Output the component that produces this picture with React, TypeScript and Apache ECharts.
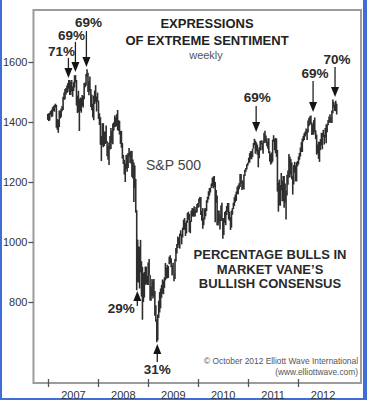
import React, { useEffect, useRef } from "react";
import * as echarts from "echarts";

// Weekly S&P 500 ranges [low, high]; each block starts on the given Friday
const spx2006: [number, number][] = [[1407, 1427]];
const spx2007: [number, number][] = [
  [1403, 1429], [1405, 1431], [1424, 1437], [1416, 1441],
  [1419, 1449], [1437, 1453], [1434, 1457], [1448, 1461],
  [1381, 1457], [1374, 1410], [1364, 1407], [1383, 1438], [1412, 1438],
  [1416, 1445], [1436, 1453], [1440, 1484], [1473, 1498],
  [1476, 1510], [1491, 1513], [1497, 1522], [1500, 1530],
  [1511, 1540], [1490, 1540], [1490, 1533], [1502, 1540], [1484, 1518],
  [1503, 1533], [1515, 1556], [1532, 1556], [1455, 1540],
  [1430, 1488], [1433, 1504], [1370, 1476], [1437, 1481], [1431, 1481],
  [1453, 1490], [1448, 1487], [1476, 1530], [1516, 1532],
  [1521, 1560], [1550, 1576], [1500, 1564], [1489, 1536],
  [1502, 1552], [1450, 1510], [1439, 1491], [1415, 1461], [1406, 1488],
  [1460, 1505], [1467, 1523], [1435, 1485], [1467, 1498],
];
const spx2008: [number, number][] = [
  [1410, 1471], [1390, 1429], [1324, 1416], [1270, 1353],
  [1322, 1396], [1316, 1396], [1320, 1368], [1327, 1368], [1330, 1388],
  [1286, 1336], [1274, 1321], [1257, 1332], [1308, 1353],
  [1310, 1380], [1332, 1370], [1326, 1395], [1371, 1399],
  [1383, 1422], [1384, 1415], [1387, 1426], [1373, 1440], [1370, 1406],
  [1358, 1404], [1327, 1371], [1314, 1370], [1278, 1330],
  [1260, 1290], [1225, 1274], [1200, 1262], [1244, 1290],
  [1234, 1292], [1247, 1297], [1283, 1313], [1263, 1300], [1262, 1304],
  [1217, 1303], [1212, 1275], [1133, 1265], [1180, 1255],
  [1098, 1210], [839, 1106], [866, 1008], [865, 985], [845, 984],
  [899, 1007], [818, 936], [741, 917], [800, 896],
  [815, 900], [857, 918], [861, 918], [857, 888],
];
const spx2009: [number, number][] = [
  [857, 932], [890, 943], [805, 890], [804, 852], [820, 877],
  [812, 872], [818, 877], [754, 837], [734, 789],
  [666, 742], [672, 758], [747, 804], [765, 833],
  [779, 845], [814, 857], [828, 875], [826, 871],
  [847, 882], [872, 930], [878, 915], [879, 924], [880, 920],
  [926, 951], [929, 956], [916, 946], [888, 922],
  [896, 931], [869, 897], [877, 943], [935, 980], [962, 993],
  [980, 1018], [990, 1013], [978, 1028], [1020, 1039],
  [992, 1026], [1015, 1048], [1040, 1074], [1041, 1080],
  [1020, 1064], [1029, 1071], [1064, 1097], [1074, 1101], [1033, 1094],
  [1029, 1071], [1067, 1105], [1086, 1113], [1084, 1112],
  [1085, 1119], [1085, 1107], [1097, 1117], [1099, 1127],
];
const spx2010: [number, number][] = [
  [1114, 1130], [1116, 1145], [1131, 1150], [1090, 1150], [1071, 1104],
  [1044, 1113], [1056, 1080], [1075, 1112], [1086, 1113],
  [1103, 1139], [1131, 1151], [1142, 1169], [1155, 1180],
  [1165, 1181], [1180, 1195], [1186, 1214], [1179, 1218], [1183, 1220],
  [1066, 1200], [1131, 1173], [1056, 1155], [1055, 1104],
  [1065, 1105], [1042, 1092], [1070, 1122], [1071, 1131],
  [1011, 1080], [1023, 1079], [1064, 1100], [1056, 1104], [1090, 1120],
  [1100, 1130], [1075, 1130], [1071, 1101], [1040, 1083],
  [1048, 1105], [1091, 1113], [1110, 1131], [1120, 1149],
  [1132, 1158], [1137, 1168], [1159, 1184], [1159, 1189], [1176, 1196],
  [1183, 1227], [1194, 1227], [1173, 1206], [1177, 1203],
  [1175, 1225], [1220, 1241], [1234, 1247], [1242, 1259], [1254, 1264],
];
const spx2011: [number, number][] = [
  [1262, 1281], [1265, 1296], [1276, 1303], [1276, 1302],
  [1283, 1311], [1311, 1330], [1323, 1344], [1294, 1338],
  [1302, 1332], [1291, 1325], [1249, 1308], [1279, 1316],
  [1305, 1337], [1325, 1339], [1306, 1330], [1294, 1338], [1329, 1364],
  [1332, 1371], [1331, 1355], [1319, 1346], [1311, 1334],
  [1296, 1346], [1268, 1302], [1258, 1292], [1262, 1298],
  [1268, 1341], [1334, 1356], [1306, 1344], [1296, 1347], [1284, 1345],
  [1168, 1307], [1101, 1199], [1122, 1208], [1121, 1190],
  [1172, 1230], [1136, 1204], [1136, 1220], [1114, 1220], [1131, 1195],
  [1075, 1171], [1155, 1224], [1191, 1238], [1215, 1293],
  [1215, 1285], [1226, 1277], [1209, 1265], [1158, 1219],
  [1192, 1256], [1231, 1267], [1202, 1255], [1202, 1266], [1252, 1270],
];
const spx2012: [number, number][] = [
  [1259, 1285], [1274, 1297], [1285, 1315], [1300, 1333],
  [1300, 1345], [1335, 1354], [1340, 1363], [1352, 1368],
  [1359, 1378], [1340, 1375], [1365, 1405], [1387, 1414], [1391, 1419],
  [1394, 1422], [1357, 1398], [1358, 1392], [1358, 1406],
  [1367, 1415], [1343, 1372], [1291, 1358], [1295, 1325],
  [1277, 1334], [1267, 1334], [1306, 1343], [1322, 1364], [1309, 1363],
  [1350, 1374], [1325, 1357], [1348, 1380], [1329, 1392],
  [1366, 1394], [1389, 1407], [1397, 1418], [1400, 1426], [1397, 1415],
  [1397, 1438], [1429, 1475], [1449, 1467], [1437, 1457],
  [1436, 1471], [1425, 1461],
];
const weeklyBlocks: { start: string; bars: [number, number][] }[] = [
  { start: "2006-12-29", bars: spx2006 },
  { start: "2007-01-05", bars: spx2007 },
  { start: "2008-01-04", bars: spx2008 },
  { start: "2009-01-02", bars: spx2009 },
  { start: "2010-01-01", bars: spx2010 },
  { start: "2011-01-07", bars: spx2011 },
  { start: "2012-01-06", bars: spx2012 },
];

const yearTicks = [2007, 2008, 2009, 2010, 2011, 2012];
const yearLabels = ["2007", "2008", "2009", "2010", "2011", "2012"];
const priceTicks = [800, 1000, 1200, 1400, 1600];

// Sentiment annotations: label, date (fractional year), price at arrow tip, direction
const annotationText = ["71%", "69%", "69%", "29%", "31%", "69%", "69%", "70%"];
const annotationDate = [2007.4, 2007.54, 2007.76, 2008.78, 2009.18, 2011.16, 2012.3, 2012.74];
const annotationPrice = [1547, 1567, 1583, 837, 660, 1367, 1433, 1483];
const annotationDir = ["down", "down", "down", "up", "up", "down", "down", "down"];

// Layout of annotation arrows (pixels relative to tip)
const arrowLayout = [
  { len: 20, dx: -7, dy: -26 },
  { len: 30, dx: -4, dy: -36 },
  { len: 36, dx: 2, dy: -45 },
  { len: 15, dx: -16, dy: 18 },
  { len: 18, dx: 0, dy: 26 },
  { len: 26, dx: 1, dy: -34 },
  { len: 31, dx: 2, dy: -39 },
  { len: 30, dx: 2, dy: -38 },
];

const FONT = '"Liberation Sans", Arial, Helvetica, sans-serif';

function yearFraction(ms: number): number {
  const y = new Date(ms).getUTCFullYear();
  const s = Date.UTC(y, 0, 1);
  const e = Date.UTC(y + 1, 0, 1);
  return y + (ms - s) / (e - s);
}

function buildBars(): number[][] {
  const out: number[][] = [];
  const DAY = 86400000;
  weeklyBlocks.forEach((b) => {
    const [yy, mm, dd] = b.start.split("-").map(Number);
    const t0 = Date.UTC(yy, mm - 1, dd);
    b.bars.forEach(([lo, hi], i) => {
      out.push([yearFraction(t0 + i * 7 * DAY - 2 * DAY), lo, hi]);
    });
  });
  return out;
}

export default function App() {
  const ref = useRef<HTMLDivElement>(null);
  useEffect(() => {
    if (!ref.current) return;
    const chart = echarts.init(ref.current, undefined, { renderer: "svg" });
    const bars = buildBars();
    const annData = annotationDate.map((d, i) => [d, annotationPrice[i]]);
    chart.setOption({
      animation: false,
      backgroundColor: "#ffffff",
      grid: {
        left: 33,
        right: 6,
        top: 10,
        bottom: 17,
        show: true,
        borderColor: "#9c9c9c",
        borderWidth: 2,
        backgroundColor: "transparent",
      },
      xAxis: {
        type: "value",
        min: 2006.7,
        max: 2013.26,
        position: "bottom",
        offset: 4,
        axisLine: { show: false },
        axisTick: {
          show: true,
          inside: true,
          length: 8,
          customValues: yearTicks,
          lineStyle: { color: "#555", width: 1.3 },
        },
        axisLabel: {
          customValues: yearTicks.map((y) => y + 0.5),
          formatter: (v: number) => yearLabels[yearTicks.indexOf(Math.floor(v))] ?? "",
          color: "#333",
          fontSize: 11,
          fontFamily: FONT,
          margin: 2,
        },
        splitLine: { show: false },
      },
      yAxis: {
        type: "value",
        min: 530,
        max: 1773.3,
        axisLine: { show: false },
        axisTick: {
          show: true,
          length: 5,
          customValues: priceTicks,
          lineStyle: { color: "#555", width: 1.3 },
        },
        axisLabel: {
          customValues: priceTicks,
          formatter: (v: number) => String(Math.round(v)),
          color: "#333",
          fontSize: 11,
          fontFamily: FONT,
          margin: 6,
        },
        splitLine: { show: false },
      },
      series: [
        {
          type: "custom",
          name: "S&P 500",
          data: bars,
          encode: { x: 0, y: [1, 2] },
          renderItem: (params: any, api: any) => {
            const x = api.value(0);
            const p1 = api.coord([x, api.value(2)]);
            const p2 = api.coord([x, api.value(1)]);
            return {
              type: "line",
              shape: { x1: p1[0], y1: p1[1], x2: p2[0], y2: p2[1] },
              style: { stroke: "#2e2e2e", lineWidth: 1.6 },
            };
          },
          z: 2,
        },
        {
          type: "custom",
          name: "annotations",
          data: annData,
          clip: false,
          z: 5,
          renderItem: (params: any, api: any) => {
            const i = params.dataIndex;
            const p = api.coord([api.value(0), api.value(1)]);
            const tx = p[0];
            const ty = p[1];
            const s = annotationDir[i] === "down" ? -1 : 1;
            const L = arrowLayout[i];
            return {
              type: "group",
              children: [
                {
                  type: "line",
                  shape: { x1: tx, y1: ty + s * L.len, x2: tx, y2: ty + s * 9 },
                  style: { stroke: "#222", lineWidth: 1.3 },
                },
                {
                  type: "polygon",
                  shape: { points: [[tx - 4, ty + s * 10], [tx + 4, ty + s * 10], [tx, ty]] },
                  style: { fill: "#151515" },
                },
                {
                  type: "text",
                  x: tx + L.dx,
                  y: ty + L.dy,
                  style: {
                    text: annotationText[i],
                    fill: "#2a2a2a",
                    font: `bold 13.5px ${FONT}`,
                    align: "center",
                    verticalAlign: "middle",
                  },
                },
              ],
            };
          },
        },
      ],
      graphic: [
        { type: "rect", shape: { x: 0, y: 0, width: 2, height: 400 }, style: { fill: "#3f6fd6" } },
        { type: "rect", shape: { x: 363, y: 0, width: 4, height: 400 }, style: { fill: "#3f6fd6" } },
        { type: "rect", shape: { x: 0, y: 398, width: 367, height: 2 }, style: { fill: "#3f6fd6" } },
        { type: "text", x: 207, y: 23, style: { text: "EXPRESSIONS", fill: "#222", font: `bold 13px ${FONT}`, align: "center", verticalAlign: "middle" } },
        { type: "text", x: 207, y: 40, style: { text: "OF EXTREME SENTIMENT", fill: "#222", font: `bold 13px ${FONT}`, align: "center", verticalAlign: "middle" } },
        { type: "text", x: 206, y: 55, style: { text: "weekly", fill: "#555", font: `11px ${FONT}`, align: "center", verticalAlign: "middle" } },
        { type: "text", x: 146, y: 165, style: { text: "S&P 500", fill: "#444", font: `14px ${FONT}`, align: "left", verticalAlign: "middle" } },
        { type: "text", x: 270, y: 254, style: { text: "PERCENTAGE BULLS IN", fill: "#2a2a2a", font: `bold 13px ${FONT}`, align: "center", verticalAlign: "middle" } },
        { type: "text", x: 270, y: 269, style: { text: "MARKET VANE\u2019S", fill: "#2a2a2a", font: `bold 13px ${FONT}`, align: "center", verticalAlign: "middle" } },
        { type: "text", x: 270, y: 283, style: { text: "BULLISH CONSENSUS", fill: "#2a2a2a", font: `bold 13px ${FONT}`, align: "center", verticalAlign: "middle" } },
        { type: "text", x: 358, y: 361, style: { text: "\u00A9 October 2012 Elliott Wave International", fill: "#555", font: `8.4px ${FONT}`, align: "right", verticalAlign: "middle" } },
        { type: "text", x: 358, y: 372, style: { text: "(www.elliottwave.com)", fill: "#555", font: `8.4px ${FONT}`, align: "right", verticalAlign: "middle" } },
      ],
    });
    return () => chart.dispose();
  }, []);
  return (
    <div
      ref={ref}
      style={{ position: "fixed", left: 0, top: 0, width: 367, height: 400, background: "#fff" }}
    />
  );
}
